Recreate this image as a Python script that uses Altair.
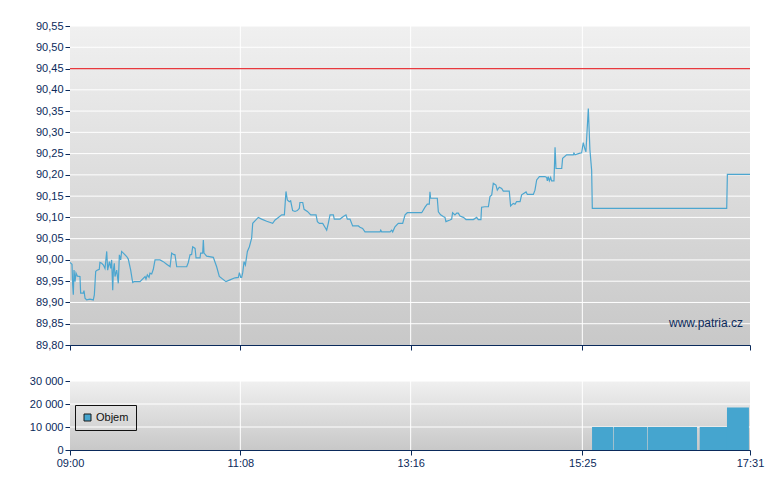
import altair as alt
import pandas as pd

# ---------------- data ----------------
SESSION_START_HOUR = 9
tick_labels = ["09:00", "11:08", "13:16", "15:25", "17:31"]

# minutes after 09:00 and last price
minutes = [0, 0.8, 1.5, 2.0, 2.5, 3.0, 3.8, 4.5, 5.5, 7.5, 8.0, 10.0, 10.5, 11.3, 12.5, 15.0, 17.5, 18.3,
           19.3, 20.0, 22.0, 22.5, 23.8, 25.1, 26.3, 27.6, 28.3, 29.6, 30.6, 31.3, 32.1, 32.6, 33.3, 33.8,
           35.1, 36.3, 37.1, 38.1, 38.8, 40.1, 42.6, 43.8, 45.6, 47.1, 48.1, 52.6, 56.4, 57.1, 58.1, 59.4,
           60.1, 61.4, 62.6, 63.9, 67.6, 70.1, 72.6, 75.2, 76.4, 77.7, 78.9, 80.2, 87.7, 88.9, 90.2, 91.4,
           92.2, 94.0, 94.7, 97.7, 98.2, 99.7, 100.2, 100.7, 102.7, 107.7, 110.2, 112.2, 117.2, 120.2,
           124.0, 126.5, 127.3, 128.3, 129.0, 129.8, 130.8, 131.8, 133.3, 134.8, 136.5, 137.3, 139.0,
           141.5, 144.0, 147.8, 152.3, 154.1, 156.6, 159.1, 161.1, 162.3, 163.3, 164.8, 165.8, 167.3,
           169.1, 170.8, 172.3, 172.8, 174.9, 175.9, 178.4, 180.9, 184.9, 185.9, 187.4, 189.9, 191.6,
           192.9, 194.1, 195.4, 197.9, 198.6, 202.9, 205.4, 207.4, 208.4, 210.4, 212.4, 216.7, 217.9,
           219.9, 221.7, 233.0, 233.5, 234.2, 240.5, 241.7, 242.5, 244.2, 246.7, 250.0, 251.8, 253.5,
           264.3, 266.8, 268.5, 270.0, 270.5, 271.0, 276.0, 276.8, 278.5, 280.5, 281.8, 282.5, 285.5,
           286.8, 287.5, 289.3, 290.6, 291.8, 293.1, 295.6, 297.6, 303.1, 305.6, 306.8, 308.8, 309.3,
           311.8, 314.4, 315.6, 316.9, 318.1, 320.1, 321.1, 322.6, 324.4, 325.6, 330.1, 331.1, 333.1,
           334.4, 335.6, 338.2, 339.4, 341.2, 342.7, 343.7, 348.2, 349.4, 350.7, 352.7, 356.9, 358.2,
           358.7, 359.4, 360.2, 361.2, 361.9, 363.7, 364.5, 365.2, 369.5, 370.2, 373.2, 378.2, 378.7,
           379.5, 383.2, 384.5, 385.7, 387.0, 387.7, 389.5, 390.7, 392.0, 392.5, 493.5, 494.0, 511.0]

prices = [89.994, 89.992, 89.990, 89.941, 89.918, 89.976, 89.949, 89.969, 89.962, 89.961, 89.922, 89.922,
          89.928, 89.910, 89.906, 89.908, 89.906, 89.918, 89.973, 89.975, 89.978, 89.994, 89.992, 89.988,
          89.980, 90.020, 89.976, 89.996, 89.980, 90.000, 89.929, 89.976, 89.992, 89.961, 89.976, 89.945,
          90.012, 90.000, 90.020, 90.016, 90.008, 90.002, 89.976, 89.947, 89.949, 89.949, 89.961, 89.955,
          89.965, 89.959, 89.969, 89.967, 89.978, 90.000, 90.000, 89.996, 89.990, 89.984, 90.016, 90.013,
          90.012, 89.984, 89.984, 89.994, 90.012, 90.013, 90.031, 90.027, 90.005, 90.005, 90.016, 90.016,
          90.047, 90.016, 90.009, 90.006, 89.984, 89.961, 89.949, 89.953, 89.958, 89.959, 89.970, 89.959,
          89.959, 89.970, 89.996, 89.988, 90.020, 90.031, 90.051, 90.086, 90.092, 90.100, 90.096, 90.091,
          90.086, 90.094, 90.100, 90.106, 90.106, 90.161, 90.141, 90.137, 90.139, 90.116, 90.114, 90.116,
          90.121, 90.135, 90.135, 90.119, 90.114, 90.106, 90.106, 90.090, 90.086, 90.086, 90.077, 90.070,
          90.086, 90.106, 90.106, 90.096, 90.096, 90.102, 90.106, 90.096, 90.096, 90.080, 90.080, 90.077,
          90.074, 90.066, 90.066, 90.070, 90.066, 90.066, 90.070, 90.066, 90.078, 90.086, 90.086, 90.106,
          90.111, 90.111, 90.124, 90.131, 90.131, 90.160, 90.145, 90.145, 90.113, 90.106, 90.102, 90.100,
          90.090, 90.094, 90.096, 90.111, 90.106, 90.110, 90.110, 90.103, 90.100, 90.095, 90.095, 90.100,
          90.095, 90.095, 90.124, 90.125, 90.125, 90.149, 90.153, 90.180, 90.176, 90.164, 90.171, 90.168,
          90.162, 90.162, 90.127, 90.133, 90.131, 90.137, 90.137, 90.153, 90.157, 90.160, 90.154, 90.154,
          90.164, 90.188, 90.196, 90.196, 90.194, 90.186, 90.196, 90.186, 90.194, 90.186, 90.186, 90.265,
          90.215, 90.215, 90.239, 90.247, 90.247, 90.251, 90.247, 90.251, 90.252, 90.276, 90.260, 90.254,
          90.356, 90.259, 90.211, 90.121, 90.121, 90.201, 90.201]

ref_price = 90.45
price_ticks = [89.80, 89.85, 89.90, 89.95, 90.00, 90.05, 90.10, 90.15, 90.20, 90.25, 90.30,
               90.35, 90.40, 90.45, 90.50, 90.55]
vol_ticks = [0, 10000, 20000, 30000]

vol_start = [392.3, 408.6, 434.1, 473.2, 493.7]
vol_end = [408.1, 433.6, 471.2, 493.7, 510.2]
volumes = [10000, 10000, 10000, 10000, 18500]
vol_series = "Objem"
watermark = "www.patria.cz"

# ---------------- derived tables ----------------
def to_min(lbl):
    h, m = lbl.split(":")
    return int(h) * 60 + int(m) - SESSION_START_HOUR * 60

tick_minutes = [to_min(l) for l in tick_labels]
x_domain = [tick_minutes[0], tick_minutes[-1]]

price_df = pd.DataFrame({"t": minutes, "v": prices})
vol_df = pd.DataFrame({"t": vol_start, "t2": vol_end, "vol": volumes, "s": [vol_series] * len(volumes)})
pgrid_df = pd.DataFrame({"v": price_ticks[1:]})
vgrid_df = pd.DataFrame({"vol": vol_ticks[1:]})
xgrid_df = pd.DataFrame({"t": tick_minutes[1:-1]})
ref_df = pd.DataFrame({"v": [ref_price]})
one_df = pd.DataFrame({"a": [0]})

NAVY = "#0b2a5b"
LINE = "#4ca6d0"
BAR = "#45a5cf"
FONT = "Liberation Sans"
W = 680

xscale = alt.Scale(domain=x_domain, nice=False, zero=False)
pscale = alt.Scale(domain=[price_ticks[0], price_ticks[-1]], nice=False, zero=False)
vscale = alt.Scale(domain=[vol_ticks[0], vol_ticks[-1]], nice=False)

x_label_expr = f"timeFormat(datetime(2000,0,1,{SESSION_START_HOUR},datum.value),'%H:%M')"

x_axis_top = alt.Axis(values=tick_minutes, labels=False, title=None, labelFlush=False)
x_axis_bot = alt.Axis(values=tick_minutes, title=None, labelFlush=False, labelOverlap=False,
                      labelExpr=x_label_expr)
p_axis = alt.Axis(values=price_ticks, title=None, labelOverlap=False,
                  labelExpr="replace(format(datum.value,'.2f'),'.',',')")
v_axis = alt.Axis(values=vol_ticks, title=None, labelOverlap=False,
                  labelExpr="replace(format(datum.value,','),',',' ')")

grad = alt.LinearGradient(
    gradient="linear",
    stops=[alt.GradientStop(color="#f0f0f0", offset=0), alt.GradientStop(color="#c8c8c8", offset=1)],
    x1=0, x2=0, y1=0, y2=1,
)

def background():
    return alt.Chart(one_df).mark_rect(color=grad).encode(
        x=alt.value(0), x2=alt.value("width"), y=alt.value(0), y2=alt.value("height")
    )

# ---------------- top panel ----------------
top_bg = background()
top_hgrid = alt.Chart(pgrid_df).mark_rule(color="white", strokeWidth=1).encode(
    y=alt.Y("v:Q", scale=pscale, axis=p_axis)
)
top_vgrid = alt.Chart(xgrid_df).mark_rule(color="white", strokeWidth=1).encode(
    x=alt.X("t:Q", scale=xscale, axis=x_axis_top)
)
top_ref = alt.Chart(ref_df).mark_rule(color="#e8383d", strokeWidth=1.2).encode(
    y=alt.Y("v:Q", scale=pscale, axis=p_axis)
)
top_line = alt.Chart(price_df).mark_line(color=LINE, strokeWidth=1.2).encode(
    x=alt.X("t:Q", scale=xscale, axis=x_axis_top),
    y=alt.Y("v:Q", scale=pscale, axis=p_axis),
)
top_text = alt.Chart(pd.DataFrame({"s": [watermark]})).mark_text(
    align="right", baseline="middle", fontSize=12, font=FONT, color=NAVY
).encode(x=alt.value(673), y=alt.value(297), text="s:N")

top = alt.layer(top_bg, top_hgrid, top_vgrid, top_ref, top_line, top_text).properties(width=W, height=319)

# ---------------- bottom panel ----------------
bot_bg = background()
bot_hgrid = alt.Chart(vgrid_df).mark_rule(color="white", strokeWidth=1).encode(
    y=alt.Y("vol:Q", scale=vscale, axis=v_axis)
)
bot_vgrid = alt.Chart(xgrid_df).mark_rule(color="white", strokeWidth=1).encode(
    x=alt.X("t:Q", scale=xscale, axis=x_axis_bot)
)
bot_bars = alt.Chart(vol_df).mark_rect().encode(
    x=alt.X("t:Q", scale=xscale, axis=x_axis_bot),
    x2="t2:Q",
    y=alt.Y("vol:Q", scale=vscale, axis=v_axis),
    y2=alt.datum(0),
    color=alt.Color("s:N", scale=alt.Scale(range=[BAR]),
                    legend=alt.Legend(title=None, orient="none", legendX=5, legendY=24,
                                      strokeColor="#111111", padding=7, symbolType="square",
                                      symbolSize=49, symbolStrokeColor="#1a1a1a",
                                      symbolStrokeWidth=1, labelFontSize=11, labelFont=FONT,
                                      labelColor="#111111", labelOffset=3)),
)
bottom = alt.layer(bot_bg, bot_hgrid, bot_vgrid, bot_bars).properties(width=W, height=69)

chart = alt.vconcat(top, bottom, spacing=36, bounds="flush").resolve_scale(
    color="independent"
).resolve_legend(color="independent").properties(
    padding={"left": 21, "top": 12, "right": 5, "bottom": 5}
).configure_view(stroke=None).configure_axis(
    domainColor=NAVY, tickColor=NAVY, labelColor=NAVY, labelFont=FONT, labelFontSize=11,
    tickSize=5, labelPadding=2, grid=False, domainWidth=1, tickWidth=1
)

chart.save("out.html", embed_options={"renderer": "svg", "actions": False})
